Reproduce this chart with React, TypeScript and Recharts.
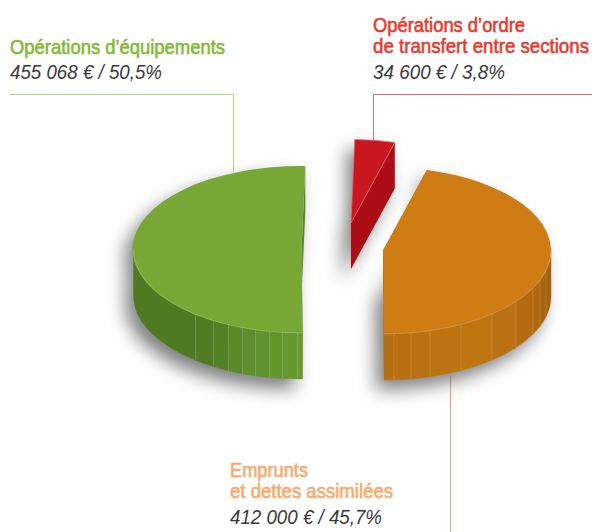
import { Pie, PieChart } from "recharts";

// chart data
const categories = ["Opérations d’équipements", "Emprunts et dettes assimilées", "Opérations d’ordre de transfert entre sections"];
const amounts = [455068, 412000, 34600];

const W = 592;
const H = 532;
const FONT = "'Liberation Sans', Arial, sans-serif";

// pie look: flattened ellipse with a wall below it
const SQUASH = 0.497;
const DEPTH = 46;
const sliceFill = ["#78a736", "#cf7c15", "#c9161f"];
const cutFill = ["#5a8a28", "#b46e11", "#ab0c16"];
const topEdge = ["none", "none", "#e0707a"];
const explode = [
  [-40.5, -0.5],
  [41, 0.5],
  [9, -27],
];
// wall facets, x offset from the slice centre (px) + shade
const facetEdges = [
  [-168, -106, -88, -73, -59, -46, -32, -19, -4, 2],
  [0, 11, 28, 47, 78, 109, 133, 150, 157, 163, 168],
  [],
];
const facetFill = [
  ["#507a22", "#527c23", "#568026", "#5c8a2a", "#5f8e2b", "#62922d", "#65962e", "#66982f", "#68992f"],
  ["#b56e10", "#b97011", "#bb7212", "#bd7312", "#c07513", "#bb7112", "#b56c11", "#b06911", "#aa6510", "#a6630f"],
  [],
];

const tableData = categories.map((name, i) => ({ name, value: amounts[i], idx: i }));

const rad = (a: number) => (a * Math.PI) / 180;

function SliceShape(props: any) {
  const { cx, cy, outerRadius, startAngle, endAngle } = props;
  const idx: number = props.payload?.idx ?? props.idx ?? props.index;
  const rx: number = outerRadius;
  const ry = rx * SQUASH;
  const x0 = cx + explode[idx][0];
  const y0 = cy + explode[idx][1];
  const s = Math.min(startAngle, endAngle);
  const e = Math.max(startAngle, endAngle);
  const px = (a: number) => x0 + rx * Math.cos(rad(a));
  const py = (a: number) => y0 - ry * Math.sin(rad(a));
  const f = (n: number) => n.toFixed(2);
  const large = e - s > 180 ? 1 : 0;

  const top = `M${f(x0)} ${f(y0)} L${f(px(s))} ${f(py(s))} A${rx} ${f(ry)} 0 ${large} 0 ${f(px(e))} ${f(py(e))} Z`;
  const cut = (a: number) =>
    `M${f(x0)} ${f(y0)} L${f(px(a))} ${f(py(a))} L${f(px(a))} ${f(py(a) + DEPTH)} L${f(x0)} ${f(y0 + DEPTH)} Z`;
  const wall = (a0: number, a1: number) =>
    `M${f(px(a0))} ${f(py(a0))} A${rx} ${f(ry)} 0 0 0 ${f(px(a1))} ${f(py(a1))} L${f(px(a1))} ${f(py(a1) + DEPTH)} A${rx} ${f(ry)} 0 0 1 ${f(px(a0))} ${f(py(a0) + DEPTH)} Z`;

  // only the lower half of the ellipse shows a wall
  const wallFrom = Math.max(s, 180);
  const wallTo = Math.min(e, 360);
  const hasWall = wallTo > wallFrom;
  const angleOf = (dx: number) => 360 - (Math.acos(Math.max(-1, Math.min(1, dx / rx))) * 180) / Math.PI;
  const edges = facetEdges[idx];

  const facets: { a0: number; a1: number; fill: string }[] = [];
  if (hasWall) {
    for (let i = 0; i < edges.length - 1; i++) {
      const a0 = Math.max(angleOf(edges[i]), wallFrom);
      const a1 = Math.min(angleOf(edges[i + 1]), wallTo);
      if (a1 > a0) facets.push({ a0, a1, fill: facetFill[idx][i] });
    }
  }
  const silhouette = [top, cut(s), cut(e), hasWall ? wall(wallFrom, wallTo) : ""].join(" ");

  return (
    <g>
      <path d={silhouette} fill="#000" fillOpacity={0.5} transform="translate(-8 10)" filter="url(#pieShadow)" />
      <path d={cut(s)} fill={cutFill[idx]} />
      <path d={cut(e)} fill={cutFill[idx]} />
      {facets.map((w, i) => (
        <path key={i} d={wall(w.a0, w.a1)} fill={w.fill} stroke={w.fill} strokeWidth={0.4} />
      ))}
      {facets.slice(1).map((w, i) => (
        <line
          key={i}
          x1={px(w.a0)}
          y1={py(w.a0)}
          x2={px(w.a0)}
          y2={py(w.a0) + DEPTH}
          stroke="#fff"
          strokeOpacity={0.14}
          strokeWidth={1}
        />
      ))}
      <path d={top} fill={sliceFill[idx]} stroke={topEdge[idx]} strokeWidth={0.8} />
      {hasWall && (
        <path
          d={`M${f(px(wallFrom))} ${f(py(wallFrom))} A${rx} ${f(ry)} 0 0 0 ${f(px(wallTo))} ${f(py(wallTo))}`}
          fill="none"
          stroke="#fff"
          strokeOpacity={0.25}
          strokeWidth={0.8}
        />
      )}
    </g>
  );
}

// titles are a narrow face in the original: small font stretched upward
function Label({ x, y, text, width, fill, italic }: any) {
  return (
    <text
      transform={`translate(${x} ${y}) scale(1 ${italic ? 1.1 : 1.13})`}
      fill={fill}
      fontFamily={FONT}
      fontSize={italic ? 18 : 18.6}
      fontStyle={italic ? "italic" : "normal"}
      fontWeight={400}
      stroke={italic ? "none" : fill}
      strokeWidth={italic ? 0 : 0.55}
      textLength={width}
      lengthAdjust="spacingAndGlyphs"
    >
      {text}
    </text>
  );
}

export default function App() {
  return (
    <div style={{ position: "absolute", left: 0, top: 0, width: W, height: H, background: "#fff" }}>
      <PieChart width={W} height={H} margin={{ top: 0, right: 0, bottom: 0, left: 0 }}>
        <defs>
          <filter id="pieShadow" filterUnits="userSpaceOnUse" x={0} y={0} width={W} height={H}>
            <feGaussianBlur stdDeviation="9" />
          </filter>
        </defs>

        <polyline points="10,94.5 233.5,94.5 233.5,172" fill="none" stroke="#b5d877" strokeWidth={1} />
        <polyline points="592,94.5 373.5,94.5 373.5,142" fill="none" stroke="#df7078" strokeWidth={1} />
        <line x1={450.5} y1={376} x2={450.5} y2={532} stroke="#f6a45f" strokeWidth={1} />

        <Pie
          data={tableData}
          dataKey="value"
          nameKey="name"
          cx={342}
          cy={250}
          innerRadius={0}
          outerRadius={168}
          startAngle={88.7}
          endAngle={448.7}
          paddingAngle={0}
          stroke="none"
          isAnimationActive={false}
          shape={SliceShape}
          activeShape={SliceShape}
          inactiveShape={SliceShape}
          label={false}
          labelLine={false}
        />

        <Label x={10} y={54} width={215} fill="#83b934" text="Opérations d’équipements" />
        <Label x={10} y={79} width={152} fill="#3a3a3a" italic text="455 068 € / 50,5%" />

        <Label x={373} y={32} width={152} fill="#e8392f" text="Opérations d’ordre" />
        <Label x={373} y={53} width={216} fill="#e8392f" text="de transfert entre sections" />
        <Label x={373} y={79} width={132} fill="#3a3a3a" italic text="34 600 € / 3,8%" />

        <Label x={230} y={477} width={78} fill="#f9a96b" text="Emprunts" />
        <Label x={230} y={498} width={163} fill="#f9a96b" text="et dettes assimilées" />
        <Label x={230} y={524} width={152} fill="#3a3a3a" italic text="412 000 € / 45,7%" />
      </PieChart>
    </div>
  );
}
